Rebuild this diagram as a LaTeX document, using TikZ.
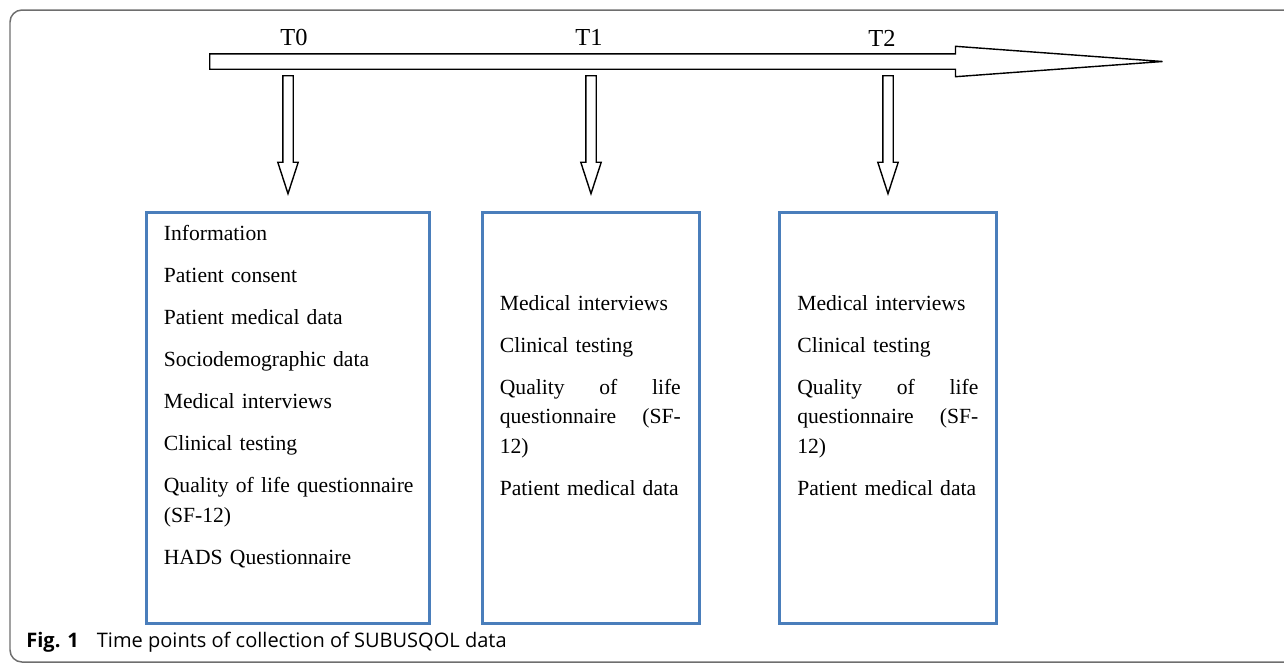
\documentclass[tikz,border=0pt]{standalone}
\usepackage{fontspec}
\setmainfont{Liberation Serif}
\newfontfamily\capfont{Open Sans}
\usetikzlibrary{shapes.arrows,positioning}
\definecolor{boxblue}{HTML}{4A7EBB}
\definecolor{framegrey}{HTML}{6E6E6E}

\begin{document}
\begin{tikzpicture}[x=0.02cm,y=-0.02cm,
 timeline/.style={single arrow,draw,line width=0.8pt,anchor=tail,inner ysep=0.14cm,inner xsep=0pt,
   minimum height=19.06cm,single arrow head extend=0.15cm,single arrow tip angle=8.4},
 downarr/.style={single arrow,draw,line width=0.8pt,rotate=-90,anchor=tail,inner ysep=0.09cm,inner xsep=0pt,
   minimum height=2.36cm,single arrow head extend=0.1cm,single arrow tip angle=36},
 tlabel/.style={anchor=base,inner sep=0pt,font=\fontsize{13.9}{16}\selectfont},
 collect/.style={draw=boxblue,line width=1.7pt,outer sep=0pt,minimum height=8.22cm},
 items/.style={anchor=north west,inner sep=0pt,align=left,font=\fontsize{12.3}{15.9}\selectfont}]
 \useasboundingbox (0,0) rectangle (1284,664);
 \draw[framegrey,line width=0.85pt,rounded corners=0.24cm] (10,10) rectangle (1300,662);
 \node[timeline] (tl) at (209,61.5) {};
 \foreach \n/\c/\b in {0/294/45,1/589/45,2/882/46} \node[tlabel] (t\n) at (\c,\b) {T\n};
 \foreach \n/\c in {0/288,1/591,2/888} \node[downarr] (a\n) at (\c,75) {};
 \node[collect,minimum width=5.66cm,below=0.34cm of a0.tip] (b0) {};
 \node[collect,minimum width=4.34cm,below=0.34cm of a1.tip] (b1) {};
 \node[collect,minimum width=4.36cm,below=0.34cm of a2.tip] (b2) {};
 \node[items,text width=5.0cm] (l0) at ([shift={(0.34cm,-0.24cm)}]b0.north west)
   {Information\\[8pt] Patient consent\\[8pt] Patient medical data\\[8pt] Sociodemographic data\\[8pt]
    Medical interviews\\[8pt] Clinical testing\\[8pt] Quality of life questionnaire\\[1pt] (SF-12)\\[8pt] HADS Questionnaire};
 \node[items,text width=3.62cm] (l1) at ([shift={(0.34cm,-1.64cm)}]b1.north west)
   {Medical interviews\\[8pt] Clinical testing\\[8pt] Quality\hfill of\hfill life\\[1pt] questionnaire\hfill (SF-\\[1pt] 12)\\[8pt] Patient medical data};
 \node[items,text width=3.62cm] (l2) at ([shift={(0.36cm,-1.64cm)}]b2.north west)
   {Medical interviews\\[8pt] Clinical testing\\[8pt] Quality\hfill of\hfill life\\[1pt] questionnaire\hfill (SF-\\[1pt] 12)\\[8pt] Patient medical data};
 \node[anchor=base west,inner sep=0pt,font=\capfont\fontsize{11.4}{13}\selectfont] (cap) at (26,647)
   {\textbf{Fig. 1}\hspace{0.9em}Time points of collection of SUBUSQOL data};
\end{tikzpicture}
\end{document}
